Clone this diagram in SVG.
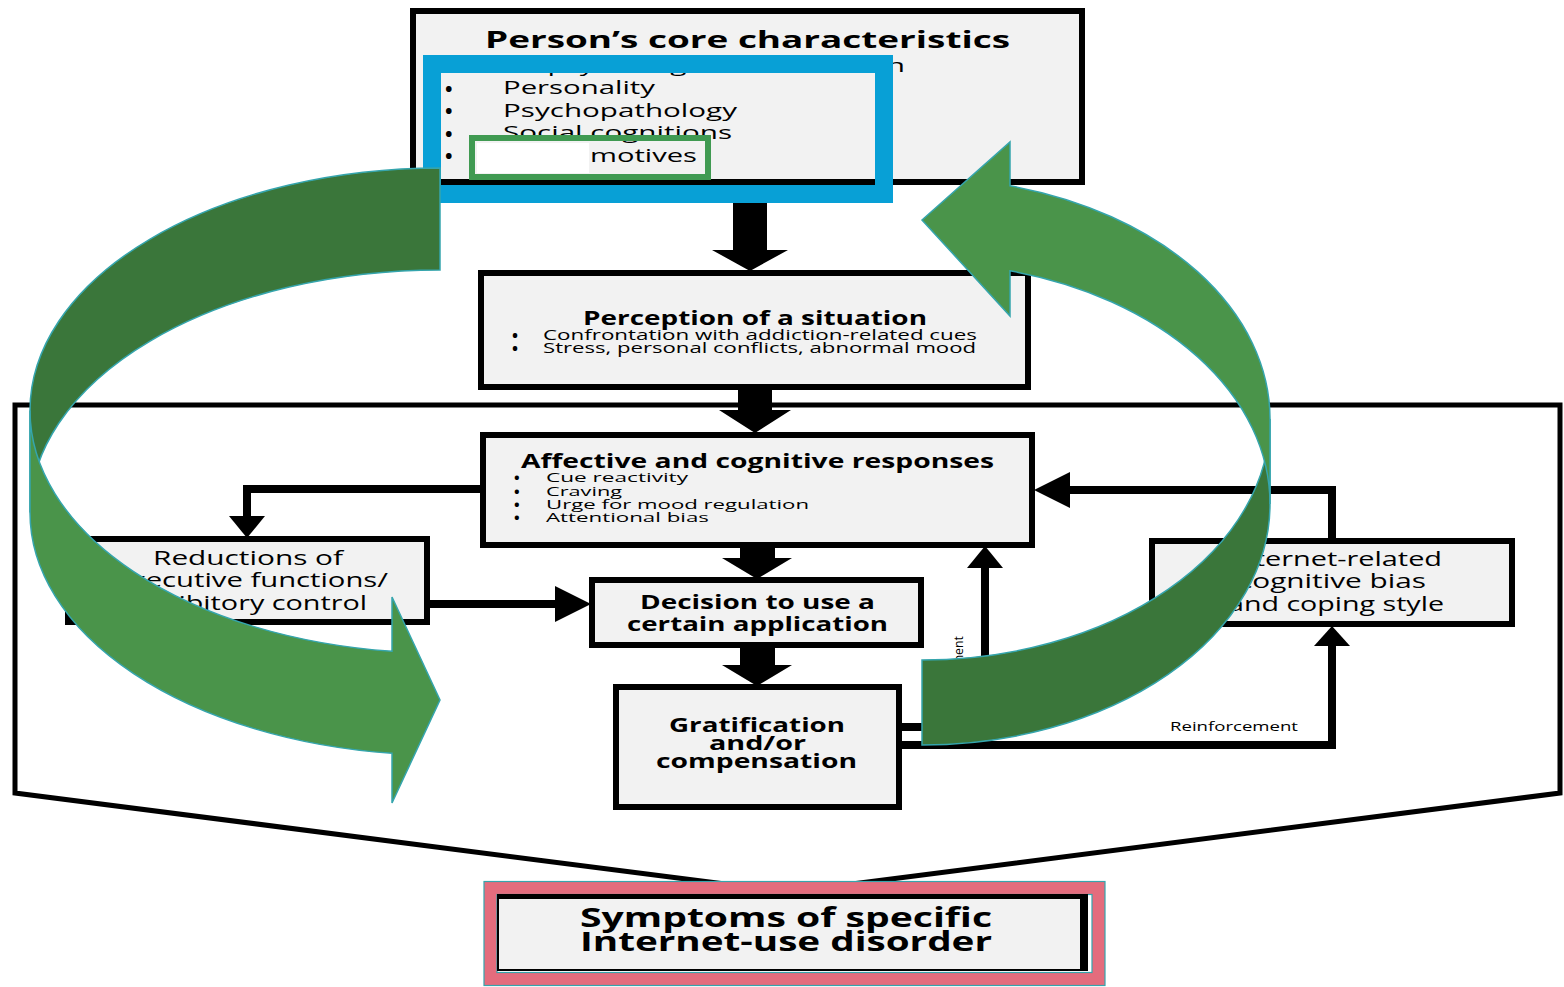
<svg xmlns="http://www.w3.org/2000/svg" width="1564" height="987" viewBox="0 0 1564 987">
<style>
.box{fill:#f2f2f2;stroke:#000;stroke-width:6}
.t{font-family:"Open Sans","Liberation Sans",sans-serif;fill:#000}
.b{font-weight:bold}
.ln{fill:none;stroke:#000;stroke-width:8}
.hd{fill:#000}
.dk{fill:#3a763a;stroke:#35a5ad;stroke-width:1.5}
.lt{fill:#4a944a;stroke:#35a5ad;stroke-width:1.5}
</style>
<rect x="0" y="0" width="1564" height="987" fill="#fff"/>
<g id="frame">
<polyline points="725,884 15,793 15,405 1560,405 1560,793 852,884" fill="none" stroke="#000" stroke-width="5"/>
</g>
<g id="connectors">
<polygon class="hd" points="733,183 767,183 767,250 788,250 750,271 712,250 733,250"/>
<polygon class="hd" points="738,387 772,387 772,410 791,410 755,433 719,410 738,410"/>
<polygon class="hd" points="740,545 775,545 775,558 792,558 757,579 722,558 740,558"/>
<polygon class="hd" points="740,645 775,645 775,665 792,665 757,686 722,665 740,665"/>
<path class="ln" d="M483,489 H247 V518"/>
<polygon class="hd" points="229,516 265,516 247,538"/>
<path class="ln" d="M428,604 H557"/>
<polygon class="hd" points="555,586 555,622 591,604"/>
<path class="ln" d="M899,727 H985 V566"/>
<polygon class="hd" points="967,568 1003,568 985,546"/>
<path class="ln" d="M899,745 H1332 V644"/>
<polygon class="hd" points="1314,646 1350,646 1332,626"/>
<path class="ln" d="M1332,541 V490 H1068"/>
<polygon class="hd" points="1070,472 1070,508 1034,490"/>
<text class="t" x="1170" y="731" font-size="13" textLength="128" lengthAdjust="spacingAndGlyphs">Reinforcement</text>
<text class="t" transform="translate(963,721) rotate(-90)" x="0" y="0" font-size="12" textLength="85" lengthAdjust="spacingAndGlyphs">Reinforcement</text>
</g>
<g id="core">
<rect class="box" x="413" y="11" width="669" height="171"/>
<text class="t b" x="485" y="48" font-size="24" textLength="525" lengthAdjust="spacingAndGlyphs">Person’s core characteristics</text>
<text class="t" font-size="19"><tspan class="b" x="445" y="73" font-size="20">•</tspan><tspan x="503" y="71.5" textLength="402" lengthAdjust="spacingAndGlyphs">Biopsychological constitution</tspan><tspan class="b" x="445" y="95.5" font-size="20">•</tspan><tspan x="503" y="94" textLength="152" lengthAdjust="spacingAndGlyphs">Personality</tspan><tspan class="b" x="445" y="118" font-size="20">•</tspan><tspan x="503" y="116.5" textLength="234" lengthAdjust="spacingAndGlyphs">Psychopathology</tspan><tspan class="b" x="445" y="140.5" font-size="20">•</tspan><tspan x="503" y="139" textLength="229" lengthAdjust="spacingAndGlyphs">Social cognitions</tspan><tspan class="b" x="445" y="163" font-size="20">•</tspan><tspan x="590" y="161.5" textLength="107" lengthAdjust="spacingAndGlyphs">motives</tspan></text>
<rect x="432" y="64" width="452" height="130" fill="none" stroke="#08a0d6" stroke-width="18"/>
<rect x="477" y="143" width="112" height="30" fill="#fff"/>
<rect x="472" y="138" width="236" height="39" fill="none" stroke="#409a52" stroke-width="6"/>
</g>
<g id="perception">
<rect class="box" x="481" y="273" width="547" height="114"/>
<text class="t b" x="583" y="325" font-size="19" textLength="344" lengthAdjust="spacingAndGlyphs">Perception of a situation</text>
<text class="t" font-size="14.5"><tspan class="b" x="512" y="340.5" font-size="16">•</tspan><tspan x="543" y="339.5" textLength="434" lengthAdjust="spacingAndGlyphs">Confrontation with addiction-related cues</tspan><tspan class="b" x="512" y="354" font-size="16">•</tspan><tspan x="543" y="353" textLength="433" lengthAdjust="spacingAndGlyphs">Stress, personal conflicts, abnormal mood</tspan></text>
</g>
<g id="affective">
<rect class="box" x="483" y="435" width="549" height="110"/>
<text class="t b" x="521" y="468" font-size="19" textLength="473" lengthAdjust="spacingAndGlyphs">Affective and cognitive responses</text>
<text class="t" font-size="13"><tspan class="b" x="514" y="483" font-size="15">•</tspan><tspan x="546" y="482" textLength="142" lengthAdjust="spacingAndGlyphs">Cue reactivity</tspan><tspan class="b" x="514" y="496.5" font-size="15">•</tspan><tspan x="546" y="495.5" textLength="76" lengthAdjust="spacingAndGlyphs">Craving</tspan><tspan class="b" x="514" y="510" font-size="15">•</tspan><tspan x="546" y="509" textLength="263" lengthAdjust="spacingAndGlyphs">Urge for mood regulation</tspan><tspan class="b" x="514" y="523" font-size="15">•</tspan><tspan x="546" y="522" textLength="163" lengthAdjust="spacingAndGlyphs">Attentional bias</tspan></text>
</g>
<g id="reductions">
<rect class="box" x="68" y="539" width="359" height="83"/>
<text class="t" font-size="20"><tspan x="153" y="565" textLength="190" lengthAdjust="spacingAndGlyphs">Reductions of</tspan><tspan x="114" y="587" textLength="274" lengthAdjust="spacingAndGlyphs">executive functions/</tspan><tspan x="136" y="610" textLength="231" lengthAdjust="spacingAndGlyphs">inhibitory control</tspan></text>
</g>
<g id="internet">
<rect class="box" x="1152" y="541" width="360" height="83"/>
<text class="t" font-size="20"><tspan x="1229" y="566" textLength="213" lengthAdjust="spacingAndGlyphs">Internet-related</tspan><tspan x="1238" y="588" textLength="188" lengthAdjust="spacingAndGlyphs">cognitive bias</tspan><tspan x="1228" y="611" textLength="216" lengthAdjust="spacingAndGlyphs">and coping style</tspan></text>
</g>
<g id="decision">
<rect class="box" x="592" y="580" width="329" height="65"/>
<text class="t b" font-size="20"><tspan x="640" y="609" textLength="235" lengthAdjust="spacingAndGlyphs">Decision to use a</tspan><tspan x="627" y="631" textLength="261" lengthAdjust="spacingAndGlyphs">certain application</tspan></text>
</g>
<g id="gratification">
<rect class="box" x="616" y="687" width="283" height="120"/>
<text class="t b" font-size="20"><tspan x="669" y="732" textLength="176" lengthAdjust="spacingAndGlyphs">Gratification</tspan><tspan x="709" y="750" textLength="97" lengthAdjust="spacingAndGlyphs">and/or</tspan><tspan x="656" y="768" textLength="201" lengthAdjust="spacingAndGlyphs">compensation</tspan></text>
</g>
<g id="symptoms">
<rect x="490.5" y="888" width="608" height="91" fill="none" stroke="#e46c7d" stroke-width="13"/>
<rect x="484" y="881.5" width="621" height="104" fill="none" stroke="#35a5ad" stroke-width="1.2"/>
<rect x="497" y="894.5" width="595" height="78" fill="none" stroke="#35a5ad" stroke-width="1.2"/>
<rect x="498" y="895" width="588" height="75" fill="#f2f2f2" stroke="#000" stroke-width="2"/>
<rect x="497" y="894" width="591" height="5" fill="#000"/>
<rect x="1080" y="894" width="8" height="77" fill="#000"/>
<text class="t b" font-size="26"><tspan x="580" y="927" textLength="412" lengthAdjust="spacingAndGlyphs">Symptoms of specific</tspan><tspan x="580" y="951" textLength="412" lengthAdjust="spacingAndGlyphs">Internet-use disorder</tspan></text>
</g>
<g id="cycle-left">
<path class="dk" d="M440,168 A410,242.5 0 0 0 30,410.5 L30,512.5 A410,242.5 0 0 1 440,270 Z"/>
<path class="lt" d="M30,410.5 A410,242.5 0 0 0 392,651.3 L392,597 L440,700 L392,803 L392,753.3 A410,242.5 0 0 1 30,512.5 Z"/>
</g>
<g id="cycle-right">
<path class="dk" d="M922,660 A348,241 0 0 0 1270,419 L1270,504 A348,241 0 0 1 922,745 Z"/>
<path class="lt" d="M1270,419 A348,241 0 0 0 1010,185.8 L1010,142 L922,220 L1010,316 L1010,270.8 A348,241 0 0 1 1270,504 Z"/>
</g>
</svg>
